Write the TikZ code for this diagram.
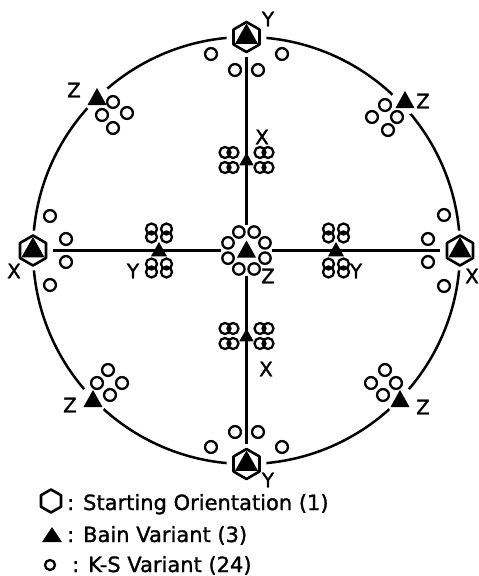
\documentclass[tikz,border=0pt]{standalone}
\usepackage{fontspec}
\setmainfont{DejaVu Sans}[BoldFont={DejaVu Sans}, BoldFeatures={FakeBold=1.3}]
\newcommand{\ksall}[1]{%
  \foreach \x/\y in {211/54,235/70,258/70,282/54,
                     211/447,235/432,258/432,282/447,
                     50/216,66/239,66/262,50/285,
                     444/215,428/239,428/262,444/286,
                     113/102,102/115,127/113,113/128,
                     385/105,372/117,397/117,388/130,
                     108/370,97/383,122/383,110/395,
                     385/370,396/383,371/383,383/395}
    {\path[#1] (\x,\y) circle (5.9);}
  \foreach \dx in {-21.5,-13.5,13.5,21.5}{\foreach \dy in {-7.5,7.5}{%
    \path[#1, shift={(iT)}] (\dx,\dy) circle (5.5);
    \path[#1, shift={(iB)}] (\dx,\dy) circle (5.5);
    \path[#1, shift={(iL)}] (\dy,\dx) circle (5.5);
    \path[#1, shift={(iR)}] (\dy,\dx) circle (5.5);}}
  \foreach \a in {22.5,67.5,...,337.5}
    {\path[#1, shift={(cen)}] (\a:20) circle (5.7);}
}
\begin{document}
\begin{tikzpicture}[x=1pt,y=-1pt,
  ringline/.style={line width=2.5pt},
  axisline/.style={line width=2.4pt},
  halo/.style={circle, fill=white, inner sep=0pt, minimum size=#1},
  lab/.style={font=\fontsize{20}{24}\selectfont\bfseries, inner sep=0pt},
  legtxt/.style={font=\fontsize{21}{24}\selectfont\bfseries, inner sep=0pt, anchor=base west},
  ksline/.style={line width=2.3pt},
  hexmark/.pic={
    \draw[line width=2.6pt, fill=white, line join=round]
      (0,-15) -- (13,-7.5) -- (13,7.5) -- (0,15) -- (-13,7.5) -- (-13,-7.5) -- cycle;
    \fill (0,-13.5) -- (11.5,6.8) -- (-11.5,6.8) -- cycle;
  },
  hexleg/.pic={
    \draw[line width=2.6pt, line join=round]
      (0,-11.5) -- (10,-5.75) -- (10,5.75) -- (0,11.5) -- (-10,5.75) -- (-10,-5.75) -- cycle;
  },
  bain/.pic={\fill (0,-10) -- (9.5,7) -- (-9.5,7) -- cycle;},
]
\useasboundingbox (0,0) rectangle (479,576);
\coordinate (C) at (246.5,250.5);
\draw[ringline] (C) circle (213.5);

% halos / anchor nodes
\node[halo=40] (hT) at (246.5,37) {};
\node[halo=40] (hB) at (246.5,464) {};
\node[halo=40] (hL) at (33,250.5) {};
\node[halo=40] (hR) at (460,250.5) {};
\node[halo=50] (cen) at (C) {};
\node[halo=28] (zUL) at (97,98) {};
\node[halo=28] (zUR) at (405,101) {};
\node[halo=28] (zLL) at (93,400) {};
\node[halo=28] (zLR) at (400,400) {};
\coordinate (iT) at (246.5,160);
\coordinate (iB) at (246.5,336);
\coordinate (iL) at (159,250.5);
\coordinate (iR) at (336,250.5);

% axes
\draw[axisline] (hT) -- (cen);
\draw[axisline] (cen) -- (hB);
\draw[axisline] (hL) -- (cen);
\draw[axisline] (cen) -- (hR);

% K-S variants
\ksall{fill=white}
\ksall{draw, ksline}

% starting orientations
\pic at (hT) {hexmark};
\pic at (hB) {hexmark};
\pic at (hL) {hexmark};
\pic at (hR) {hexmark};

% Bain variants
\pic at (cen) {bain};
\pic[scale=0.75] at (iT) {bain};
\pic[scale=0.75] at (iB) {bain};
\pic[scale=0.85] at (iL) {bain};
\pic[scale=0.85] at (iR) {bain};
\pic at (zUL) {bain};
\pic at (zUR) {bain};
\pic at (zLL) {bain};
\pic at (zLR) {bain};

% labels
\node[lab] (lYT) at (268,19) {Y};
\node[lab] (lYB) at (268,480) {Y};
\node[lab] (lXL) at (14,271) {X};
\node[lab] (lXR) at (472,276) {X};
\node[lab] (lXT) at (262,137) {X};
\node[lab] (lXB) at (266,369) {X};
\node[lab] (lYL) at (133,271) {Y};
\node[lab] (lYR) at (356,271) {Y};
\node[lab] (lZC) at (268,276) {Z};
\node[lab] (lZUL) at (74,90) {Z};
\node[lab] (lZUR) at (423,101) {Z};
\node[lab] (lZLL) at (70,405) {Z};
\node[lab] (lZLR) at (423,407) {Z};

% legend
\pic at (51,501) {hexleg};
\node[legtxt] (t1) at (67,510) {: Starting Orientation (1)};
\fill (52,527) -- (62,542) -- (42,542) -- cycle;
\node[legtxt] (t2) at (67,542) {: Bain Variant (3)};
\draw[ksline] (50,565) circle (5);
\node[legtxt] (t3) at (72,572) {: K-S Variant (24)};
\end{tikzpicture}
\end{document}
